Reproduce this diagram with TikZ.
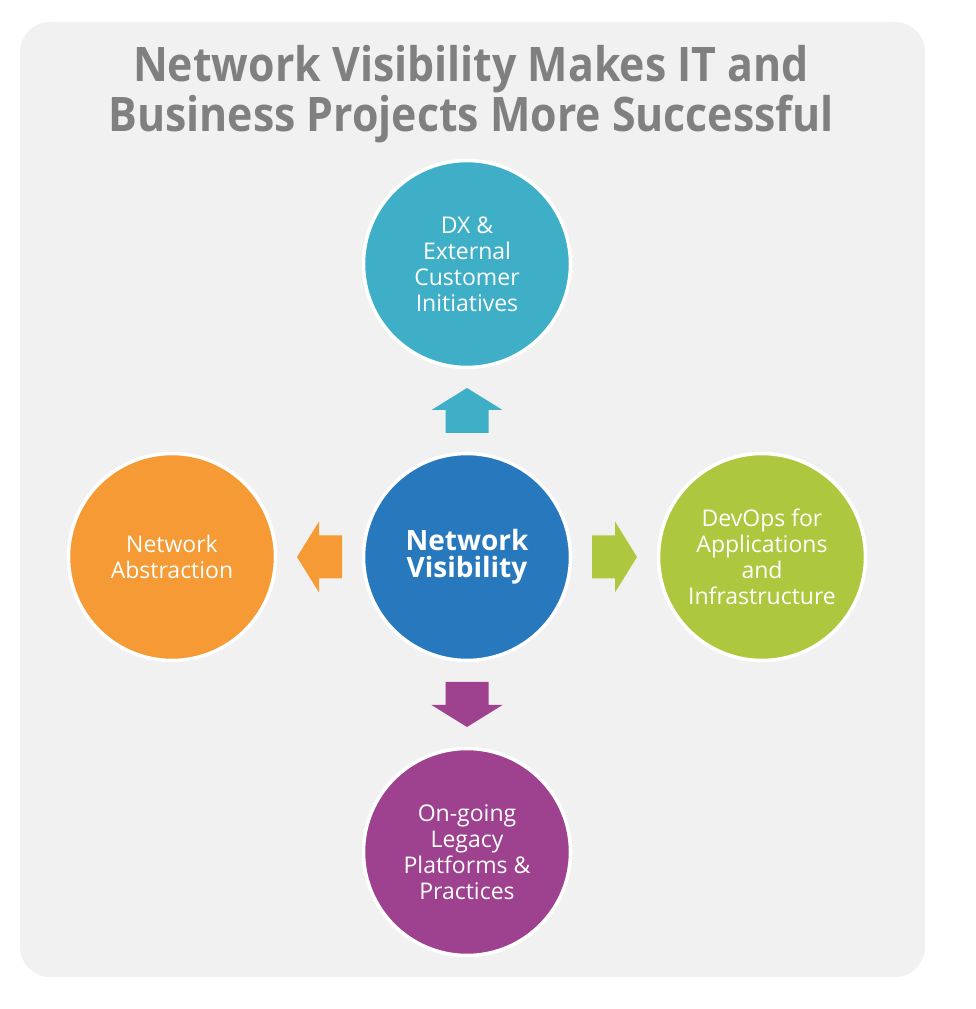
\documentclass[tikz,border=0pt]{standalone}
\usepackage{fontspec}
\setmainfont{Open Sans}
\newfontfamily\titlefont[FakeStretch=0.9]{Open Sans}
\usetikzlibrary{calc, positioning}

% block arrow pointing right, centred on #2, turned by #3
\newcommand{\blockarrow}[3]{%
  \fill[#1, shift={(#2)}, rotate=#3]
    (-22.5,-21.5) -- (0.5,-21.5) -- (0.5,-35.5) -- (22.5,0)
    -- (0.5,35.5) -- (0.5,21.5) -- (-22.5,21.5) -- cycle;}

\begin{document}
\begin{tikzpicture}[x=1pt, y=1pt,
    bubble/.style={circle, draw=white, line width=3.5pt, minimum size=207pt,
      inner sep=0pt, align=center, text=white,
      font=\fontsize{23}{26}\selectfont}]
  % colours
  \definecolor{panelGray}{RGB}{241,241,241}
  \definecolor{titleGray}{RGB}{128,128,128}
  \definecolor{dxTeal}{RGB}{63,175,200}
  \definecolor{hubBlue}{RGB}{40,120,189}
  \definecolor{absOrange}{RGB}{245,154,52}
  \definecolor{devGreen}{RGB}{173,200,63}
  \definecolor{legPurple}{RGB}{158,65,143}

  % page and grey panel
  \useasboundingbox (0,0) rectangle (975,1009);
  \fill[white] (0,0) rectangle (975,1009);
  \fill[panelGray, rounded corners=30pt] (20,32) rectangle (925,987);

  % title
  \node[text=titleGray, align=center, inner sep=0pt, anchor=north,
    font=\titlefont\fontsize{47.6}{50}\selectfont\bfseries] (title) at (471,964)
    {Network Visibility Makes IT and\\Business Projects More Successful};

  % circles
  \node[bubble, fill=hubBlue, font=\fontsize{28}{27}\selectfont\bfseries]
    (hub) at (467,452) {Network\\Visibility};
  \node[bubble, fill=dxTeal] (dx) at (467,745)
    {DX \&\\External\\Customer\\Initiatives};
  \node[bubble, fill=absOrange] (abs) at (172,452) {Network\\Abstraction};
  \node[bubble, fill=devGreen] (dev) at (762,452)
    {DevOps for\\Applications\\and\\Infrastructure};
  \node[bubble, fill=legPurple] (leg) at (467,157)
    {On-going\\Legacy\\Platforms \&\\Practices};

  % arrows between hub and circles
  \coordinate (mUp) at ($(hub.center)!0.5!(dx.center)$);
  \coordinate (mLeft) at ($(hub.center)!0.5!(abs.center)$);
  \coordinate (mRight) at ($(hub.center)!0.5!(dev.center)$);
  \coordinate (mDown) at ($(hub.center)!0.5!(leg.center)$);
  \blockarrow{dxTeal}{mUp}{90}
  \blockarrow{absOrange}{mLeft}{180}
  \blockarrow{devGreen}{mRight}{0}
  \blockarrow{legPurple}{mDown}{-90}
\end{tikzpicture}
\end{document}
